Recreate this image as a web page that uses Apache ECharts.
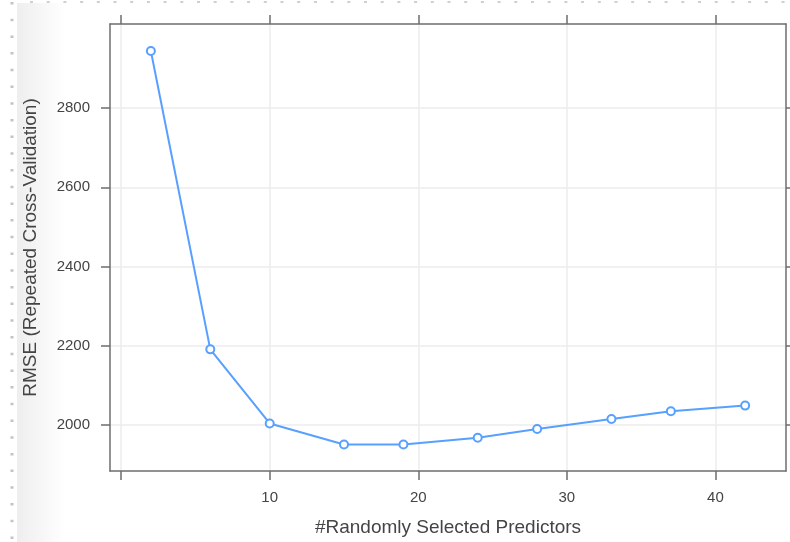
<!DOCTYPE html>
<html>
<head>
<meta charset="utf-8">
<script src="https://cdn.jsdelivr.net/npm/echarts@6/dist/echarts.min.js"></script>
<style>
  html, body { margin: 0; padding: 0; background: #fff; }
  #chart { width: 790px; height: 542px; }
</style>
</head>
<body>
<div id="chart"></div>
<script>
// 数据
const predictors = [2, 6, 10, 15, 19, 24, 28, 33, 37, 42]
const rmse = [2944, 2191, 2004, 1951, 1951, 1968, 1990, 2015, 2035, 2049]
const xTicks = [0, 10, 20, 30, 40]
const xLabels = [10, 20, 30, 40]
const yTicks = [2000, 2200, 2400, 2600, 2800]

const axisColor = '#6e6e6e'
const gridColor = '#ececec'
const textColor = '#444'
const lineColor = '#58a0ff'

const chart = echarts.init(document.getElementById('chart'))

const xBase = {
  type: 'value',
  min: -0.75,
  max: 44.75,
  axisLine: { show: true, onZero: false, lineStyle: { color: axisColor, width: 1.5 } },
  axisTick: { show: true, inside: false, length: 9, customValues: xTicks, lineStyle: { color: axisColor, width: 1.5 } }
}
const yBase = {
  type: 'value',
  min: 1884,
  max: 3012,
  axisLine: { show: true, onZero: false, lineStyle: { color: axisColor, width: 1.5 } },
  axisTick: { show: true, inside: false, length: 9, customValues: yTicks, lineStyle: { color: axisColor, width: 1.5 } }
}

const option = {
  animation: false,
  backgroundColor: '#fff',
  grid: { left: 110, top: 24, right: 4, bottom: 71, containLabel: false, outerBoundsMode: 'none' },
  xAxis: [
    Object.assign({}, xBase, {
      position: 'bottom',
      name: '#Randomly Selected Predictors',
      nameLocation: 'middle',
      nameGap: 47,
      nameTextStyle: { color: textColor, fontSize: 19, fontFamily: 'Liberation Sans' },
      axisLabel: {
        customValues: xLabels, margin: 19, color: textColor, fontSize: 15, fontFamily: 'Liberation Sans',
        formatter: v => String(v)
      },
      splitLine: { show: true, lineStyle: { color: gridColor, width: 1.5 } }
    }),
    Object.assign({}, xBase, {
      position: 'top',
      axisLabel: { show: false },
      splitLine: { show: false }
    })
  ],
  yAxis: [
    Object.assign({}, yBase, {
      position: 'left',
      name: 'RMSE (Repeated Cross-Validation)',
      nameLocation: 'middle',
      nameGap: 70,
      nameTextStyle: { color: textColor, fontSize: 19, fontFamily: 'Liberation Sans' },
      axisLabel: {
        customValues: yTicks, margin: 20, color: textColor, fontSize: 15, fontFamily: 'Liberation Sans',
        formatter: v => String(v)
      },
      splitLine: { show: true, lineStyle: { color: gridColor, width: 1.5 } }
    }),
    Object.assign({}, yBase, {
      position: 'right',
      axisLabel: { show: false },
      splitLine: { show: false }
    })
  ],
  series: [
    {
      type: 'line',
      data: predictors.map((p, i) => [p, rmse[i]]),
      xAxisIndex: 0,
      yAxisIndex: 0,
      symbol: 'emptyCircle',
      symbolSize: 8,
      lineStyle: { color: lineColor, width: 2 },
      itemStyle: { color: lineColor, borderColor: lineColor, borderWidth: 2 }
    }
  ],
  // 左侧截图边缘的装饰
  graphic: [
    {
      type: 'rect',
      z: -10,
      shape: { x: 17, y: 3, width: 48, height: 539 },
      style: {
        fill: {
          type: 'linear', x: 0, y: 0, x2: 1, y2: 0,
          colorStops: [
            { offset: 0, color: '#eeeeee' },
            { offset: 1, color: '#ffffff' }
          ]
        }
      }
    },
    {
      type: 'line',
      shape: { x1: 12, y1: 2, x2: 12, y2: 542 },
      style: { stroke: '#c4c4c4', lineWidth: 3, lineDash: [2.5, 14.2] }
    },
    {
      type: 'line',
      shape: { x1: 30, y1: 2, x2: 790, y2: 2 },
      style: { stroke: '#d0d0d0', lineWidth: 2, lineDash: [3, 13.7] }
    }
  ]
}

chart.setOption(option)
</script>
</body>
</html>
